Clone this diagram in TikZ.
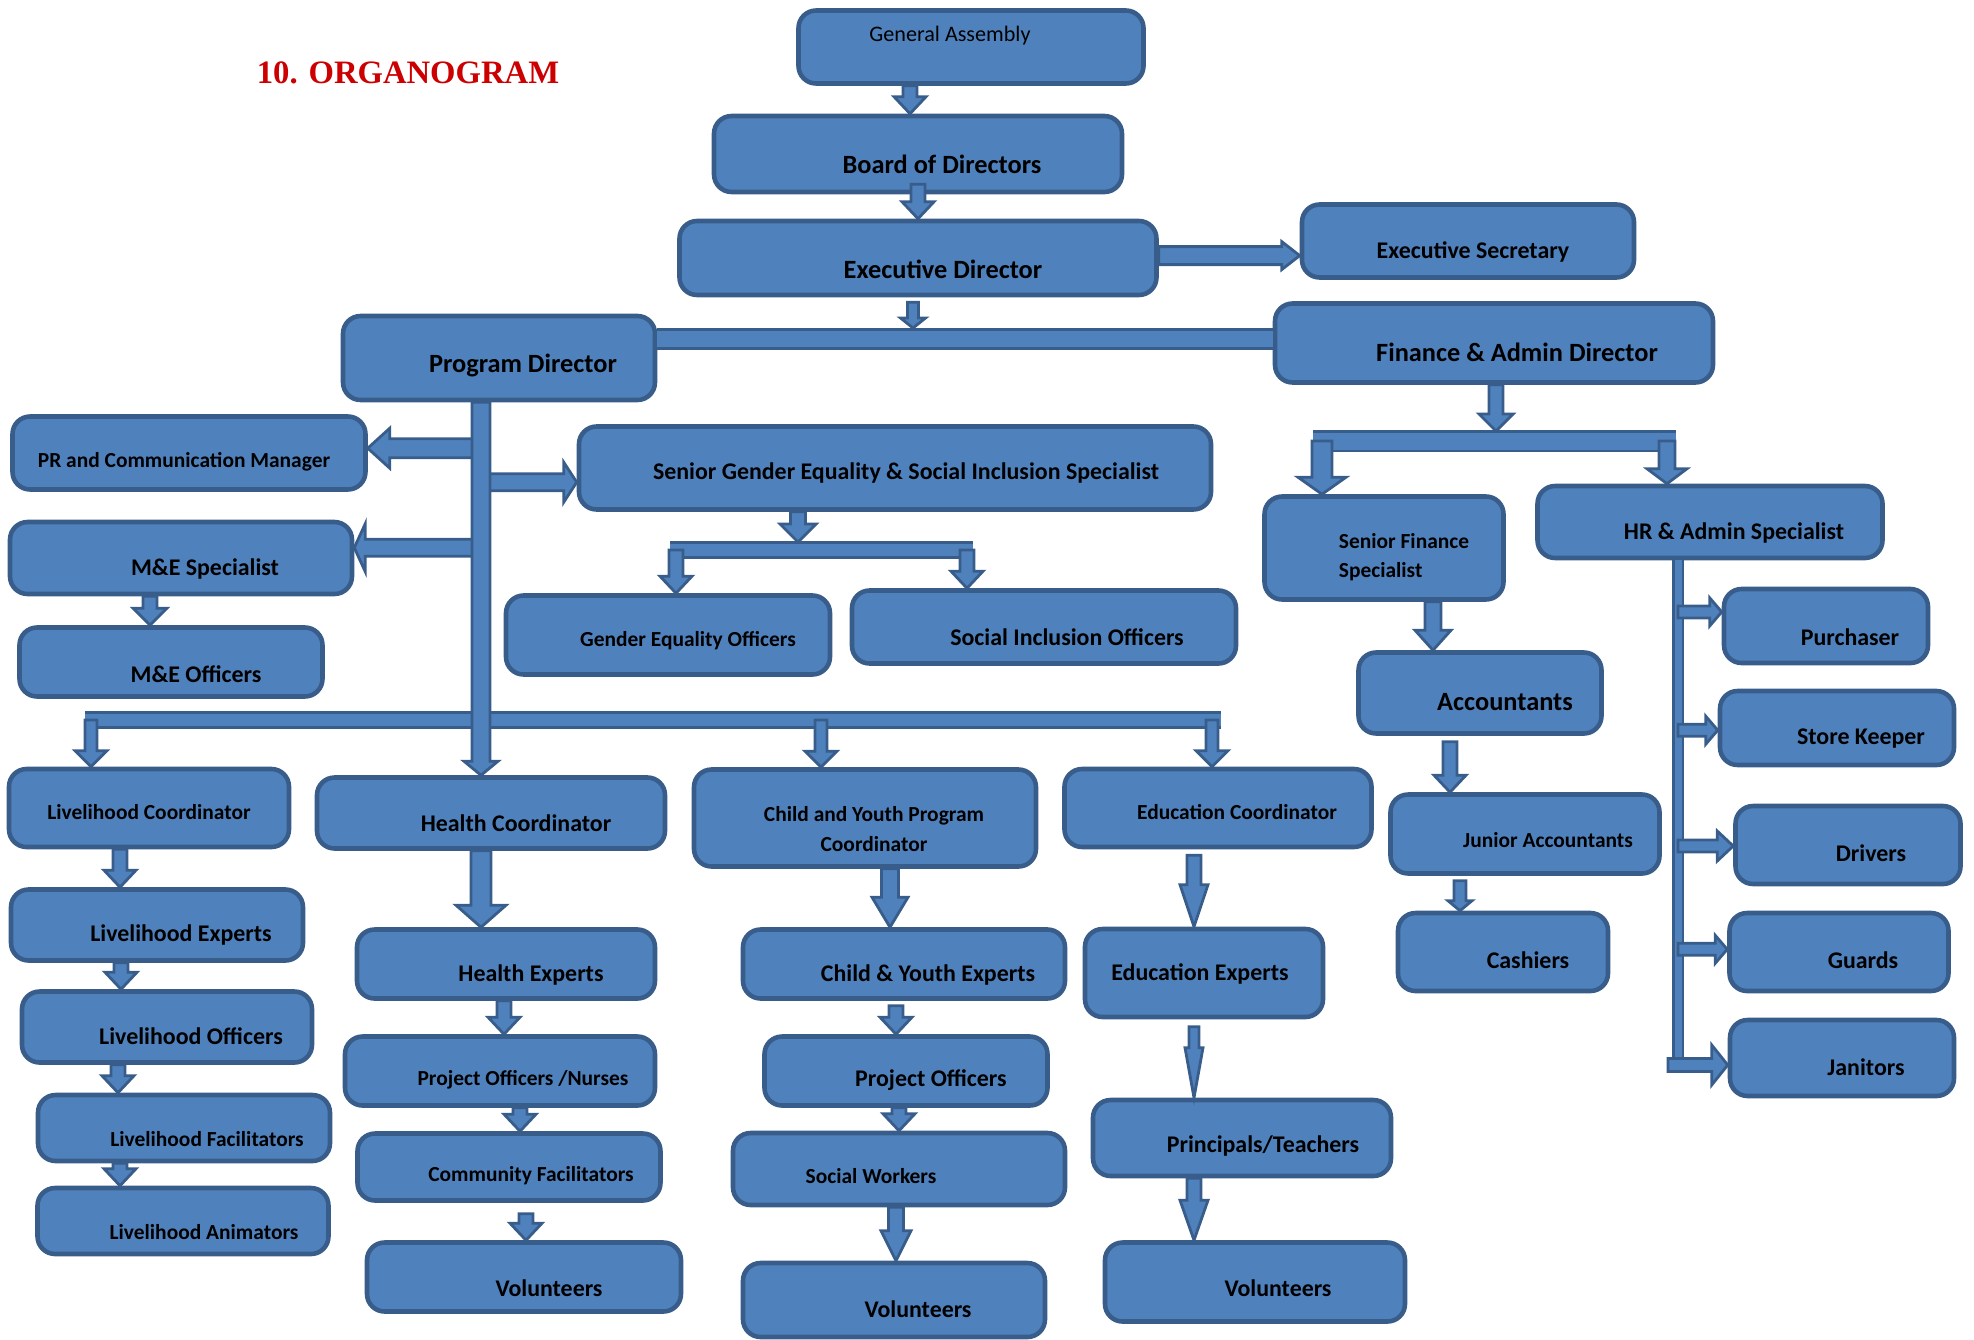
\documentclass[tikz,border=0pt]{standalone}
\usepackage{fontspec}
\setmainfont{Carlito}
\newfontfamily\titlefont{Liberation Serif}
\usetikzlibrary{calc}
\definecolor{boxblue}{RGB}{79,129,189}
\definecolor{edgeblue}{RGB}{56,93,138}
\definecolor{titlered}{RGB}{204,0,0}
\newcommand\sizeL{\fontsize{7.5}{9}\selectfont\bfseries}
\newcommand\sizeM{\fontsize{6.8}{8.2}\selectfont\bfseries}
\newcommand\sizeS{\fontsize{6.1}{8.4}\selectfont\bfseries}
\newcommand\sizeGA{\fontsize{6.3}{8}\selectfont}
\tikzset{
  unit/.style={draw=edgeblue, fill=boxblue, line width=1.3pt, rounded corners=5pt, inner sep=0pt},
  boxtext/.style={text=black, inner sep=0pt, align=center},
  lbL/.style={boxtext, font=\sizeL},
  lbM/.style={boxtext, font=\sizeM},
  lbS/.style={boxtext, font=\sizeS},
  blockarrow/.style n args={3}{draw=edgeblue, fill=boxblue, line width=0.8pt,
    to path={let \p1=(\tikztostart), \p2=(\tikztotarget), \n1={atan2(\y2-\y1,\x2-\x1)} in
      ($(\p1)+(\n1+90:#1)$) -- ($(\p2)+(\n1+180:#3)+(\n1+90:#1)$)
      -- ($(\p2)+(\n1+180:#3)+(\n1+90:#2)$) -- (\p2)
      -- ($(\p2)+(\n1+180:#3)+(\n1-90:#2)$) -- ($(\p2)+(\n1+180:#3)+(\n1-90:#1)$)
      -- ($(\p1)+(\n1-90:#1)$) -- cycle}},
  flow/.style={blockarrow={0.07}{0.16}{0.17}},
  band/.style={draw=edgeblue, line width=0.8pt, double=boxblue, double distance=#1},
}
\begin{document}
\begin{tikzpicture}
\useasboundingbox (0,0) rectangle (19.74,-13.39);

\node[text=titlered, font={\titlefont\fontsize{9.3}{11}\selectfont\bfseries}] (title) at (4.08,-0.73) {10. ORGANOGRAM};

\node[unit, minimum width=3.45cm, minimum height=0.73cm, label={[boxtext, font=\sizeGA, shift={(-0.21,0.11)}]center:General Assembly}] (ga) at (9.71,-0.47) {};
\node[unit, minimum width=4.08cm, minimum height=0.76cm, label={[lbL, shift={(0.24,-0.10)}]center:Board of Directors}] (board) at (9.18,-1.54) {};
\node[unit, minimum width=4.77cm, minimum height=0.74cm, label={[lbL, shift={(0.25,-0.11)}]center:Executive Director}] (ed) at (9.18,-2.58) {};
\node[unit, minimum width=3.32cm, minimum height=0.73cm, label={[lbM, shift={(0.05,-0.11)}]center:Executive Secretary}] (es) at (14.68,-2.41) {};
\node[unit, minimum width=3.12cm, minimum height=0.84cm, label={[lbL, shift={(0.24,-0.07)}]center:Program Director}] (pd) at (4.99,-3.58) {};
\node[unit, minimum width=4.38cm, minimum height=0.79cm, label={[lbL, shift={(0.23,-0.09)}]center:Finance \& Admin Director}] (fad) at (14.94,-3.43) {};
\node[unit, minimum width=3.53cm, minimum height=0.73cm, label={[lbS, shift={(-0.05,-0.09)}]center:PR and Communication Manager}] (pr) at (1.89,-4.53) {};
\node[unit, minimum width=6.32cm, minimum height=0.83cm, label={[lbM, shift={(0.11,-0.05)}]center:Senior Gender Equality \& Social Inclusion Specialist}] (sgesis) at (8.95,-4.68) {};
\node[unit, minimum width=3.42cm, minimum height=0.72cm, label={[lbM, shift={(0.24,-0.11)}]center:M\&E Specialist}] (mes) at (1.81,-5.58) {};
\node[unit, minimum width=3.03cm, minimum height=0.69cm, label={[lbM, shift={(0.25,-0.12)}]center:M\&E Officers}] (meo) at (1.71,-6.62) {};
\node[unit, minimum width=3.24cm, minimum height=0.79cm, label={[lbS, shift={(0.20,-0.06)}]center:Gender Equality Officers}] (geo) at (6.68,-6.35) {};
\node[unit, minimum width=3.84cm, minimum height=0.73cm, label={[lbM, shift={(0.23,-0.10)}]center:Social Inclusion Officers}] (sio) at (10.44,-6.27) {};
\node[unit, minimum width=2.39cm, minimum height=1.03cm, label={[lbS, align=left, shift={(0.20,-0.09)}]center:Senior Finance\\Specialist}] (sfs) at (13.84,-5.48) {};
\node[unit, minimum width=3.45cm, minimum height=0.72cm, label={[lbM, shift={(0.24,-0.11)}]center:HR \& Admin Specialist}] (hr) at (17.10,-5.22) {};
\node[unit, minimum width=2.43cm, minimum height=0.81cm, label={[lbL, shift={(0.25,-0.09)}]center:Accountants}] (acc) at (14.80,-6.93) {};
\node[unit, minimum width=2.04cm, minimum height=0.74cm, label={[lbM, shift={(0.24,-0.11)}]center:Purchaser}] (pur) at (18.26,-6.26) {};
\node[unit, minimum width=2.34cm, minimum height=0.74cm, label={[lbM, shift={(0.24,-0.11)}]center:Store Keeper}] (sk) at (18.37,-7.28) {};
\node[unit, minimum width=2.69cm, minimum height=0.79cm, label={[lbS, shift={(0.23,-0.06)}]center:Junior Accountants}] (ja) at (15.25,-8.34) {};
\node[unit, minimum width=2.25cm, minimum height=0.78cm, label={[lbM, shift={(0.23,-0.08)}]center:Drivers}] (drv) at (18.48,-8.45) {};
\node[unit, minimum width=2.10cm, minimum height=0.78cm, label={[lbM, shift={(0.25,-0.08)}]center:Cashiers}] (cash) at (15.03,-9.52) {};
\node[unit, minimum width=2.19cm, minimum height=0.78cm, label={[lbM, shift={(0.24,-0.08)}]center:Guards}] (grd) at (18.39,-9.52) {};
\node[unit, minimum width=2.24cm, minimum height=0.76cm, label={[lbM, shift={(0.24,-0.09)}]center:Janitors}] (jan) at (18.42,-10.58) {};
\node[unit, minimum width=2.80cm, minimum height=0.78cm, label={[lbS, shift={(0,-0.04)}]center:Livelihood Coordinator}] (lc) at (1.49,-8.08) {};
\node[unit, minimum width=3.48cm, minimum height=0.71cm, label={[lbM, shift={(0.25,-0.10)}]center:Health Coordinator}] (hc) at (4.91,-8.13) {};
\node[unit, minimum width=3.42cm, minimum height=0.97cm, label={[lbS, shift={(0.09,-0.11)}]center:Child and Youth Program\\Coordinator}] (cypc) at (8.65,-8.18) {};
\node[unit, minimum width=3.07cm, minimum height=0.78cm, label={[lbS, shift={(0.19,-0.04)}]center:Education Coordinator}] (ec) at (12.18,-8.08) {};
\node[unit, minimum width=2.92cm, minimum height=0.71cm, label={[lbM, shift={(0.24,-0.10)}]center:Livelihood Experts}] (le) at (1.57,-9.25) {};
\node[unit, minimum width=2.90cm, minimum height=0.71cm, label={[lbM, shift={(0.24,-0.09)}]center:Livelihood Officers}] (lo) at (1.67,-10.27) {};
\node[unit, minimum width=2.92cm, minimum height=0.66cm, label={[lbS, shift={(0.23,-0.11)}]center:Livelihood Facilitators}] (lf) at (1.84,-11.28) {};
\node[unit, minimum width=2.91cm, minimum height=0.66cm, label={[lbS, shift={(0.21,-0.11)}]center:Livelihood Animators}] (la) at (1.83,-12.21) {};
\node[unit, minimum width=2.98cm, minimum height=0.69cm, label={[lbM, shift={(0.25,-0.11)}]center:Health Experts}] (he) at (5.06,-9.64) {};
\node[unit, minimum width=3.10cm, minimum height=0.69cm, label={[lbS, shift={(0.23,-0.09)}]center:Project Officers /Nurses}] (pon) at (5.00,-10.71) {};
\node[unit, minimum width=3.03cm, minimum height=0.67cm, label={[lbS, shift={(0.22,-0.09)}]center:Community Facilitators}] (cf) at (5.09,-11.67) {};
\node[unit, minimum width=3.14cm, minimum height=0.69cm, label={[lbM, shift={(0.25,-0.11)}]center:Volunteers}] (vh) at (5.24,-12.77) {};
\node[unit, minimum width=3.22cm, minimum height=0.69cm, label={[lbM, shift={(0.24,-0.11)}]center:Child \& Youth Experts}] (cye) at (9.04,-9.64) {};
\node[unit, minimum width=2.83cm, minimum height=0.69cm, label={[lbM, shift={(0.25,-0.09)}]center:Project Officers}] (po) at (9.06,-10.71) {};
\node[unit, minimum width=3.32cm, minimum height=0.72cm, label={[lbS, shift={(-0.28,-0.07)}]center:Social Workers}] (sw) at (8.99,-11.69) {};
\node[unit, minimum width=3.02cm, minimum height=0.74cm, label={[lbM, shift={(0.24,-0.09)}]center:Volunteers}] (vc) at (8.94,-13.00) {};
\node[unit, minimum width=2.38cm, minimum height=0.88cm, label={[lbM, shift={(-0.04,-0.01)}]center:Education Experts}] (ee) at (12.04,-9.73) {};
\node[unit, minimum width=2.98cm, minimum height=0.76cm, label={[lbM, shift={(0.21,-0.08)}]center:Principals/Teachers}] (pt) at (12.42,-11.38) {};
\node[unit, minimum width=3.00cm, minimum height=0.79cm, label={[lbM, shift={(0.23,-0.06)}]center:Volunteers}] (ve) at (12.55,-12.82) {};

\coordinate (edfork) at (9.13,-3.28);
\coordinate (pdtrunk) at (4.81,-4.0);
\coordinate (gmid) at (7.98,-5.42);
\coordinate (gl) at (6.76,-5.50);
\coordinate (gr) at (9.67,-5.50);
\coordinate (pbl) at (0.91,-7.20);
\coordinate (pbr) at (12.12,-7.20);
\coordinate (fmid) at (14.96,-4.31);
\coordinate (fbl) at (13.22,-4.41);
\coordinate (fbr) at (16.67,-4.41);
\coordinate (hrt) at (16.78,-10.65);

\draw[flow] (ga.south -| 9.10,0) to (board.north -| 9.10,0);
\draw[flow] ([yshift=1mm]board.south) to (ed.north);
\draw[blockarrow={0.09}{0.14}{0.18}] (ed.east |- 0,-2.556) to (es.west |- 0,-2.556);
\draw[band=0.16cm] (pd.east |- 0,-3.387) -- (fad.west |- 0,-3.387);
\draw[blockarrow={0.055}{0.125}{0.1}] ([yshift=-0.5mm]ed.south -| edfork) to (edfork);

\draw[blockarrow={0.095}{0.2}{0.22}] (pdtrunk |- 0,-4.482) to (pr.east |- 0,-4.482);
\draw[blockarrow={0.085}{0.2}{0.13}] (pdtrunk |- 0,-4.822) to (sgesis.west |- 0,-4.822);
\draw[blockarrow={0.085}{0.24}{0.11}] (pdtrunk |- 0,-5.477) to (mes.east |- 0,-5.477);
\draw[band=0.12cm] ([xshift=-0.6mm]pbl) -- ([xshift=0.9mm]pbr);
\draw[blockarrow={0.09}{0.17}{0.14}] (pd.south -| pdtrunk) to (hc.north -| pdtrunk);
\draw[blockarrow={0.07}{0.17}{0.17}] (mes.south -| 1.50,0) to (meo.north -| 1.50,0);

\draw[blockarrow={0.075}{0.18}{0.18}] (sgesis.south -| gmid) to (gmid);
\draw[band=0.12cm] ([xshift=-0.6mm]gl) -- ([xshift=0.6mm]gr);
\draw[flow] (gl) to (geo.north -| gl);
\draw[flow] (gr) to (sio.north -| gr);

\draw[blockarrow={0.06}{0.16}{0.16}] (pbl) to (lc.north -| pbl);
\draw[blockarrow={0.06}{0.16}{0.16}] (pbl -| 8.21,0) to (cypc.north -| 8.21,0);
\draw[blockarrow={0.06}{0.16}{0.16}] (pbr) to (ec.north -| pbr);

\draw[blockarrow={0.07}{0.17}{0.17}] (fad.south -| fmid) to (fmid);
\draw[band=0.17cm] ([xshift=-0.9mm]fbl) -- ([xshift=0.9mm]fbr);
\draw[blockarrow={0.1}{0.24}{0.17}] (fbl) to (sfs.north -| fbl);
\draw[blockarrow={0.08}{0.2}{0.15}] (fbr) to (hr.north -| fbr);
\draw[blockarrow={0.08}{0.18}{0.2}] (sfs.south -| 14.33,0) to (acc.north -| 14.33,0);
\draw[flow] ([yshift=-0.6mm]acc.south -| 14.50,0) to (ja.north -| 14.50,0);
\draw[blockarrow={0.06}{0.12}{0.1}] ([yshift=-0.5mm]ja.south -| 14.60,0) to (cash.north -| 14.60,0);

\draw[band=0.07cm] (hr.south -| hrt) -- (hrt);
\draw[blockarrow={0.06}{0.14}{0.12}] (hrt |- 0,-6.119) to (pur.west |- 0,-6.119);
\draw[blockarrow={0.06}{0.14}{0.12}] (hrt |- 0,-7.302) to (sk.west |- 0,-7.302);
\draw[blockarrow={0.06}{0.15}{0.16}] (hrt |- 0,-8.460) to (drv.west |- 0,-8.460);
\draw[blockarrow={0.06}{0.14}{0.12}] (hrt |- 0,-9.493) to (grd.west |- 0,-9.493);
\draw[blockarrow={0.065}{0.2}{0.16}] ([xshift=-1mm]hrt) to (jan.west |- hrt);

\draw[flow] (lc.south -| 1.20,0) to (le.north -| 1.20,0);
\draw[flow] (le.south -| 1.21,0) to (lo.north -| 1.21,0);
\draw[flow] (lo.south -| 1.18,0) to (lf.north -| 1.18,0);
\draw[flow] (lf.south -| 1.20,0) to (la.north -| 1.20,0);

\draw[blockarrow={0.1}{0.25}{0.22}] (hc.south -| pdtrunk) to (he.north -| pdtrunk);
\draw[flow] (he.south -| 5.04,0) to (pon.north -| 5.04,0);
\draw[flow] (pon.south -| 5.20,0) to (cf.north -| 5.20,0);
\draw[flow] ([yshift=-1.1mm]cf.south -| 5.26,0) to (vh.north -| 5.26,0);

\draw[blockarrow={0.085}{0.18}{0.3}] (cypc.south -| 8.90,0) to (cye.north -| 8.90,0);
\draw[flow] ([yshift=-0.5mm]cye.south -| 8.96,0) to (po.north -| 8.96,0);
\draw[flow] (po.south -| 8.99,0) to (sw.north -| 8.99,0);
\draw[blockarrow={0.075}{0.15}{0.3}] (sw.south -| 8.96,0) to (vc.north -| 8.96,0);

\draw[blockarrow={0.07}{0.14}{0.42}] ([yshift=-0.6mm]ec.south -| 11.94,0) to (ee.north -| 11.94,0);
\draw[blockarrow={0.05}{0.09}{0.5}] ([yshift=-0.75mm]ee.south -| 11.94,0) to (pt.north -| 11.94,0);
\draw[blockarrow={0.07}{0.14}{0.4}] (pt.south -| 11.94,0) to (ve.north -| 11.94,0);
\end{tikzpicture}
\end{document}
